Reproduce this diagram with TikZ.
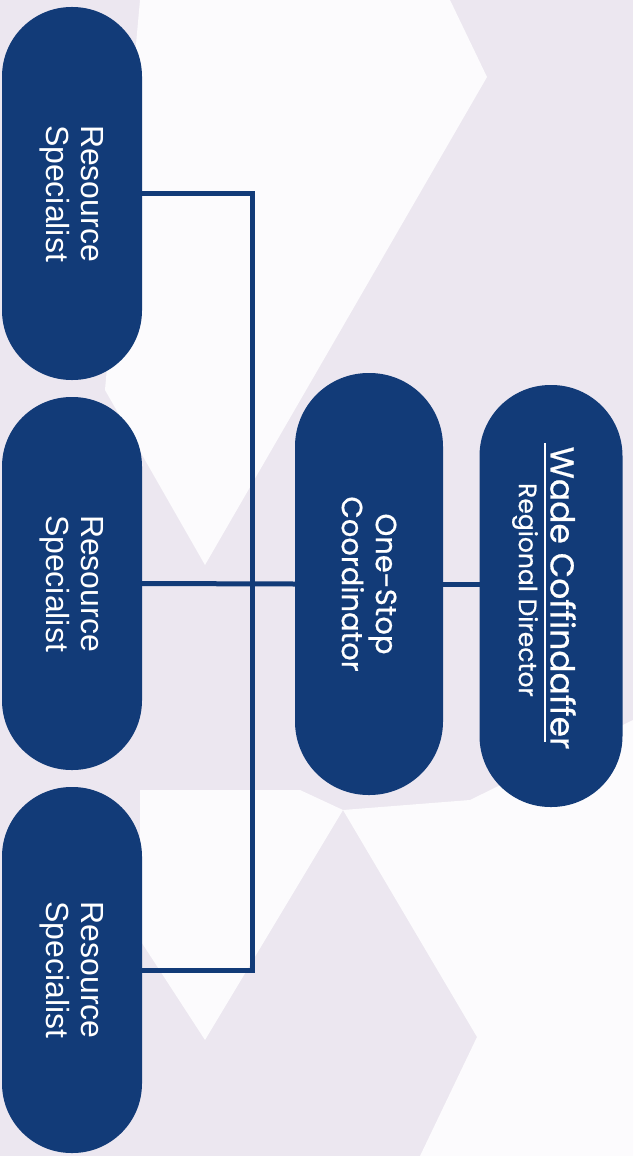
\documentclass[tikz,border=0pt]{standalone}
\usepackage{fontspec}
\setmainfont{Liberation Sans}
\newfontfamily\pop{Poppins}[FakeBold=0.6]
\definecolor{navy}{HTML}{123B78}
\definecolor{lav}{HTML}{ECE7F0}
\definecolor{wht}{HTML}{FCFBFD}
\begin{document}
\begin{tikzpicture}[x=1pt,y=-1pt,
  pill/.style={fill=navy, rotate=-90, inner sep=0pt, outer sep=0pt},
  rstext/.style={rotate=-90, text=white, align=center, font=\fontsize{32}{35}\selectfont},
  poptext/.style={rotate=-90, text=white, align=center, font=\pop\fontsize{29}{34}\selectfont},
  link/.style={draw=navy, line width=5pt}]
\useasboundingbox (0,0) rectangle (633,1156);
% background
\fill[lav] (0,0) rectangle (633,1156);
\fill[wht] (140,0) -- (450,0) -- (487,77) -- (205,565) -- (105,390) -- cycle;
\fill[wht] (343,810) -- (470,800) -- (633,720) -- (633,1156) -- (420,1156) -- (477,1037) -- cycle;
\fill[wht] (140,790) -- (300,790) -- (343,810) -- (205,1040) -- (140,940) -- cycle;
% pills
\node[pill, minimum width=373pt, minimum height=140pt, rounded corners=69.5pt] (rs1) at (72,193.5) {};
\node[pill, minimum width=373pt, minimum height=140pt, rounded corners=69.5pt] (rs2) at (72,583.5) {};
\node[pill, minimum width=366pt, minimum height=140pt, rounded corners=69.5pt] (rs3) at (72,970) {};
\node[pill, minimum width=422pt, minimum height=148pt, rounded corners=73.5pt] (osc) at (369,584) {};
\node[pill, minimum width=422pt, minimum height=143pt, rounded corners=71pt] (wade) at (551,596) {};
% connectors
\coordinate (bus1) at (252,193.5);
\coordinate (bus3) at (252,970);
\draw[link] (rs1.north) -- (bus1) -- (bus3) -- (rs3.north);
\draw[link] (rs2.north) -- (osc.south);
\draw[link] (osc.north) -- (wade.south |- osc.north);
% texts
\node[rstext] (t1) at (rs1.center) {Resource\\Specialist};
\node[rstext] (t2) at (rs2.center) {Resource\\Specialist};
\node[rstext] (t3) at (rs3.center) {Resource\\Specialist};
\node[poptext] (t4) at (osc.center) {One-Stop\\Coordinator};
\node[rotate=-90, text=white, font=\pop\fontsize{33}{36}\selectfont] (t5) at (563,598) {Wade Coffindaffer};
\node[rotate=-90, text=white, font=\pop\fontsize{25}{27}\selectfont] (t6) at (525,590) {Regional Director};
\draw[white, line width=1.3pt] (545,443) -- (545,742);
\end{tikzpicture}
\end{document}
